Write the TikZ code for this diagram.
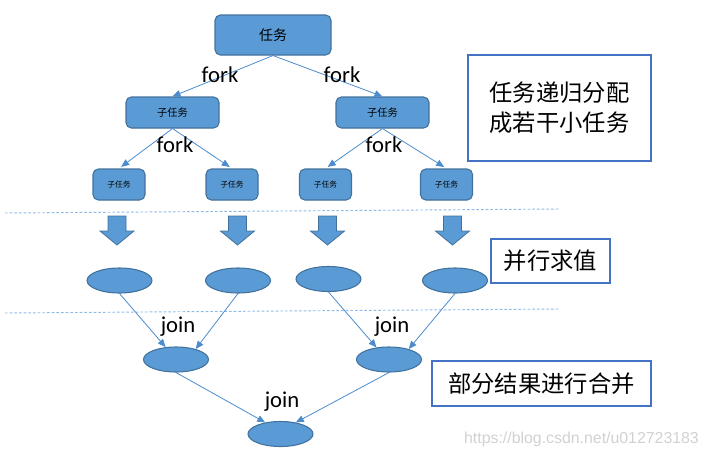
\documentclass[tikz,border=0pt]{standalone}
\usepackage{fontspec}
\usepackage{tikz}
\usetikzlibrary{shapes.geometric}
\usetikzlibrary{arrows.meta}
\newfontfamily\cjk{Noto Sans CJK SC}
\newfontfamily\carlito{Carlito}
\newfontfamily\libsans{Liberation Sans}
\definecolor{boxfill}{RGB}{91,155,213}
\definecolor{boxline}{RGB}{65,113,156}
\definecolor{linkblue}{RGB}{76,140,204}
\definecolor{noteline}{RGB}{68,114,196}
\definecolor{dashblue}{RGB}{140,185,228}

\begin{document}
\begin{tikzpicture}[x=0.75pt,y=0.75pt,yscale=-1,xscale=1,
  taskbox/.style={draw=boxline, fill=boxfill, rounded corners=4pt, line width=0.8pt, inner sep=0pt},
  valnode/.style={ellipse, draw=boxline, fill=boxfill, line width=0.8pt, minimum width=48.75pt, minimum height=18.75pt, inner sep=0pt},
  notebox/.style={draw=noteline, line width=1.5pt, fill=white, inner sep=0pt, align=center, font=\cjk\fontsize{17.5}{22.5}\selectfont},
  link/.style={draw=linkblue, line width=0.6pt, -{Triangle[length=6pt,width=5pt]}},
  lbl/.style={font=\carlito\fontsize{17}{20}\selectfont},
  bigarrow/.style={draw=boxline, fill=boxfill, line width=0.6pt, line join=miter},
  cut/.style={draw=dashblue, line width=0.7pt, dash pattern=on 2pt off 1.5pt}]
\useasboundingbox (0,0) rectangle (708,458);

%Shape: Rounded Rect
\node[taskbox, minimum width=87pt, minimum height=30pt, font=\cjk\fontsize{10.5}{12}\selectfont] (task) at (273,35) {任务};
%Shape: Rounded Rect
\node[taskbox, minimum width=69.75pt, minimum height=23.25pt, font=\cjk\fontsize{7.7}{9}\selectfont] (subl) at (172.5,112.5) {子任务};
\node[taskbox, minimum width=69.75pt, minimum height=23.25pt, font=\cjk\fontsize{7.7}{9}\selectfont] (subr) at (382.5,112.5) {子任务};
%Shape: Rounded Rect
\node[taskbox, minimum width=39pt, minimum height=23.25pt, font=\cjk\fontsize{5.8}{7}\selectfont] (leafa) at (119,184.5) {子任务};
\node[taskbox, minimum width=39pt, minimum height=23.25pt, font=\cjk\fontsize{5.8}{7}\selectfont] (leafb) at (232,184.5) {子任务};
\node[taskbox, minimum width=39pt, minimum height=23.25pt, font=\cjk\fontsize{5.8}{7}\selectfont] (leafc) at (325.5,184.5) {子任务};
\node[taskbox, minimum width=39pt, minimum height=23.25pt, font=\cjk\fontsize{5.8}{7}\selectfont] (leafd) at (446.5,184.5) {子任务};

%Straight Lines
\draw[link] (task.south) -- (subl.north);
\draw[link] (task.south) -- (subr.north);
\draw[link, shorten >=2pt] (subl.south) -- (leafa.north);
\draw[link, shorten >=2pt] (subl.south) -- (leafb.north);
\draw[link, shorten >=2pt] (subr.south) -- (leafc.north);
\draw[link, shorten >=2pt] (subr.south) -- (leafd.north);

% Text Node
\node[lbl] (forka) at (220,75) {fork};
\node[lbl] (forkb) at (342,75) {fork};
\node[lbl] (forkc) at (175,145) {fork};
\node[lbl] (forkd) at (384,145) {fork};

%Dashed Lines
\draw[cut] (5,213) -- (560,209);
\draw[cut] (5,313) -- (560,309);

%Shape: Down Arrow
\foreach \c in {117,237.5,327.5,452.5}
  \draw[bigarrow] ({\c-9},216) -- ({\c+9},216) -- ({\c+9},231) -- ({\c+17},231) -- (\c,245) -- ({\c-17},231) -- ({\c-9},231) -- cycle;

%Shape: Ellipse
\node[valnode] (vala) at (119.5,280.5) {};
\node[valnode] (valb) at (238,280.5) {};
\node[valnode] (valc) at (328.5,279) {};
\node[valnode] (vald) at (455,280.5) {};
\node[valnode] (mrgl) at (176,359.5) {};
\node[valnode] (mrgr) at (389,359.5) {};
\node[valnode] (total) at (280.5,434) {};

%Straight Lines
\draw[link] (vala.south) -- (mrgl.130);
\draw[link] (valb.south) -- (mrgl.28);
\draw[link] (valc.south) -- (mrgr.136);
\draw[link] (vald.south) -- (mrgr.28);
\draw[link] (mrgl.south) -- (total.143);
\draw[link] (mrgr.south) -- (total.37);

% Text Node
\node[lbl] (joina) at (178,327) {join};
\node[lbl] (joinb) at (392,327) {join};
\node[lbl] (joinc) at (282,402) {join};

% Text Node
\node[notebox, minimum width=137.25pt, minimum height=79.5pt] (split) at (559.5,108) {任务递归分配\\成若干小任务};
\node[notebox, minimum width=89.25pt, minimum height=33pt] (calc) at (550.5,261) {并行求值};
\node[notebox, minimum width=164.25pt, minimum height=33.75pt] (merge) at (541.5,383.5) {部分结果进行合并};

% Text Node
\node[font=\libsans\fontsize{11.9}{13}\selectfont, text=black!18] (mark) at (581.5,439) {https://blog.csdn.net/u012723183};

\end{tikzpicture}
\end{document}
